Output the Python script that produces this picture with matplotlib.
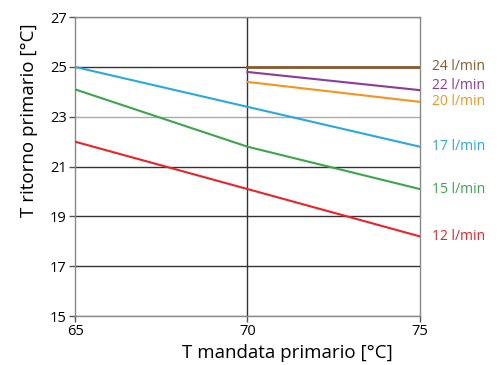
import matplotlib.pyplot as plt

plt.rcParams['font.family'] = ['Open Sans', 'DejaVu Sans']

# flow rate series: T mandata -> T ritorno
x_full = [65, 70, 75]
x_half = [70, 75]

labels = ['24 l/min', '22 l/min', '20 l/min', '17 l/min', '15 l/min', '12 l/min']
xs = [x_half, x_half, x_half, x_full, x_full, x_full]
ys = [
    [25.0, 25.0],
    [24.8, 24.07],
    [24.4, 23.6],
    [25.0, 23.4, 21.8],
    [24.1, 21.8, 20.1],
    [22.0, 20.1, 18.2],
]
label_y = [25.0, 24.25, 23.6, 21.8, 20.1, 18.2]
colors = ['#8a5a2e', '#8e3a9a', '#f7941d', '#2aa8e0', '#3aa64a', '#ec2227']

yticks = [15, 17, 19, 21, 23, 25, 27]
xticks = [65, 70, 75]

fig = plt.figure(figsize=(5.01, 3.65), dpi=100)
ax = fig.add_axes([0.15, 0.134, 0.688, 0.819])

# horizontal grid
grid_cols = {15: '#888888', 17: '#333333', 19: '#333333', 21: '#333333',
             23: '#aaaaaa', 25: '#333333', 27: '#888888'}
for yv in yticks:
    ax.axhline(yv, color=grid_cols[yv], lw=1.0, zorder=1)
ax.axvline(70, color='#333333', lw=1.0, zorder=1)

for x, y, c in zip(xs, ys, colors):
    ax.plot(x, y, color=c, lw=1.5 if c != '#8a5a2e' else 2.0, zorder=3)

for lab, ly, c in zip(labels, label_y, colors):
    ax.text(75.35, ly, lab, color=c, fontsize=10, va='center', ha='left')

ax.set_xlim(65, 75)
ax.set_ylim(15, 27)
ax.set_xticks(xticks)
ax.set_yticks(yticks)
ax.tick_params(direction='out', length=4, width=1, color='#555555', labelsize=10.5, pad=2)
for s in ax.spines.values():
    s.set_color('#888888')
    s.set_linewidth(1.0)

ax.set_xlabel('T mandata primario [°C]', fontsize=13.5)
ax.set_ylabel('T ritorno primario [°C]', fontsize=13.5)
ax.xaxis.set_label_coords(0.617, -0.095)
ax.yaxis.set_label_coords(-0.108, 0.655)

fig.savefig('out.png', dpi=100)
